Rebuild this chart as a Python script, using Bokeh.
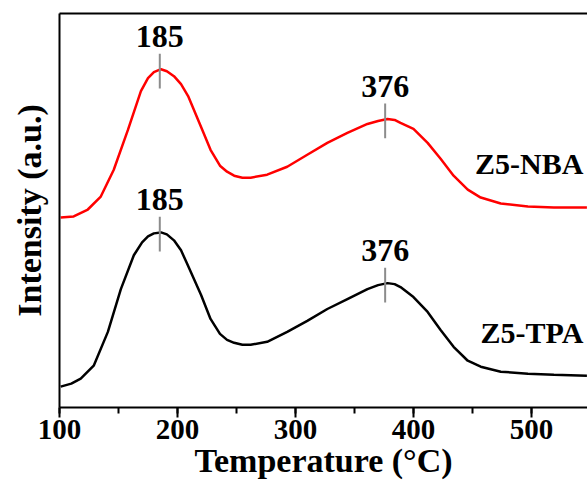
import numpy as np
from bokeh.plotting import figure
from bokeh.models import Range1d, LinearAxis, SingleIntervalTicker, FixedTicker
from bokeh.embed import file_html
from bokeh.resources import INLINE
from bokeh.core.properties import value

# ---- data ----
nba_temp = [101, 112, 124, 135, 146, 158, 169, 175, 180, 186, 191, 197, 203, 209,
            220, 228, 236, 242, 248, 255, 262, 276, 293, 310, 327, 344, 361, 370,
            378, 384, 389, 400, 412, 423, 434, 446, 457, 474, 497, 519, 547]
nba_int = [191, 192, 199, 212, 239, 279, 318, 331, 337, 340, 338, 333, 325, 313,
           282, 259, 243, 237, 233, 231, 231, 234, 242, 254, 266, 276, 285, 288,
           290, 289, 286, 280, 266, 250, 233, 219, 211, 205, 202, 201, 201]

tpa_temp = [101, 110, 118, 129, 141, 152, 163, 170, 175, 180, 186, 191, 197, 203,
            208, 220, 228, 236, 242, 248, 255, 262, 276, 293, 310, 327, 344, 361,
            370, 378, 384, 389, 400, 412, 423, 434, 446, 457, 474, 497, 519, 547]
tpa_int = [21, 24, 29, 42, 76, 119, 153, 166, 172, 175, 176, 174, 168, 158,
           145, 113, 89, 74, 68, 65, 63, 63, 66, 76, 87, 99, 109, 119,
           123, 125, 124, 121, 111, 96, 78, 61, 47, 41, 36, 34, 33, 32]

peak_temps = [185, 376]
peak_labels = ["185", "376"]
series_names = ["Z5-NBA", "Z5-TPA"]
x_ticks_interval = 100

FONT = value("Liberation Serif")

p = figure(width=587, height=481,
           x_range=Range1d(100, 547.5), y_range=Range1d(0, 396),
           output_backend="svg", toolbar_location=None,
           min_border_left=59, min_border_right=0,
           min_border_top=13, min_border_bottom=72)
p.background_fill_color = "white"
p.border_fill_color = "white"
p.outline_line_color = None
p.xgrid.visible = False
p.ygrid.visible = False

# curves
p.line(nba_temp, nba_int, line_color="#ff0000", line_width=2.5)
p.line(tpa_temp, tpa_int, line_color="black", line_width=2.5)

# peak markers
for temps, ints in ((nba_temp, nba_int), (tpa_temp, tpa_int)):
    pk = np.interp(peak_temps, temps, ints)
    p.segment(x0=peak_temps, y0=pk - 19, x1=peak_temps, y1=pk + 16,
              line_color="#8c8c8c", line_width=2)
    p.text(x=peak_temps, y=pk + 33, text=peak_labels, text_align="center",
           text_baseline="alphabetic", text_font=FONT, text_font_style="bold",
           text_font_size=value("32px"), text_color="black")

# series labels
p.text(x=[544, 544], y=[245, 75], text=series_names, text_align="right",
       text_baseline="middle", text_font=FONT, text_font_style="bold",
       text_font_size=value("30px"), text_color="black")

# x axis
xa = p.xaxis[0]
xa.ticker = SingleIntervalTicker(interval=x_ticks_interval, num_minor_ticks=2)
xa.axis_line_width = 2
xa.major_tick_line_width = 2
xa.minor_tick_line_width = 2
xa.major_tick_in = 0
xa.major_tick_out = 10
xa.minor_tick_in = 0
xa.minor_tick_out = 6
xa.major_label_text_font = "Liberation Serif"
xa.major_label_text_font_style = "bold"
xa.major_label_text_font_size = "29px"
xa.major_label_text_color = "black"
xa.major_label_standoff = 2
xa.axis_label = "Temperature (°C)"
xa.axis_label_text_font = "Liberation Serif"
xa.axis_label_text_font_style = "bold"
xa.axis_label_text_font_size = "34px"
xa.axis_label_text_color = "black"
xa.axis_label_standoff = 0

# y axis
ya = p.yaxis[0]
ya.ticker = FixedTicker(ticks=[])
ya.axis_line_width = 2
ya.major_tick_line_color = None
ya.minor_tick_line_color = None
ya.major_label_text_font_size = "0px"
ya.axis_label = "Intensity (a.u.)"
ya.axis_label_text_font = "Liberation Serif"
ya.axis_label_text_font_style = "bold"
ya.axis_label_text_font_size = "34px"
ya.axis_label_text_color = "black"
ya.axis_label_standoff = 12

# top border line
top = LinearAxis(ticker=FixedTicker(ticks=[]), axis_line_width=2,
                 major_tick_line_color=None, minor_tick_line_color=None,
                 major_label_text_font_size="0px")
p.add_layout(top, "above")

open("out.html", "w").write(file_html(p, INLINE))
